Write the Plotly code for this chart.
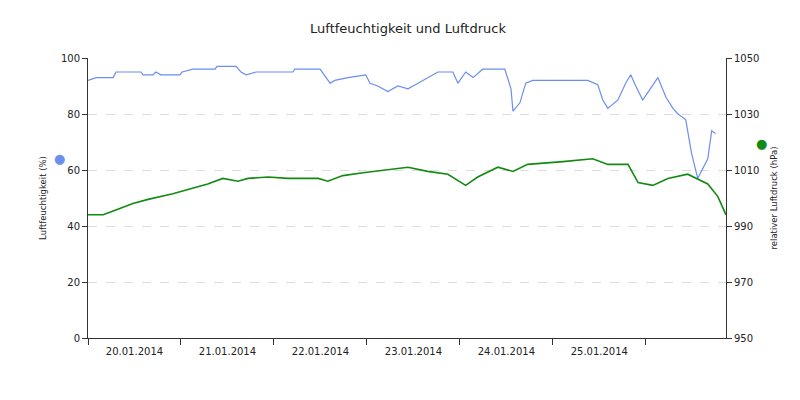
import plotly.graph_objects as go
import pandas as pd

start = pd.Timestamp("2014-01-20 00:00")
hum_hours = [0,2.1,6.5,7.2,13.7,14.2,16.8,17.5,18.8,23.7,24.3,27.1,32.8,33.3,38.2,39.5,40.8,43.4,52.9,53.4,59.9,61.4,62.5,63.7,67.1,71.7,72.8,74.8,77.4,80,82.6,85.2,87.7,90.3,94.2,95.5,97.5,99.4,101.9,107.6,109.2,109.7,111.5,113.0,114.8,118.7,129.0,131.6,132.9,134.2,136.8,138.8,140.1,141.4,143.2,147.1,149.2,151.0,152.3,154.3,155.8,157.4,160,161.0,162.0]
hum_vals = [92,93,93,95,95,94,94,95,94,94,95,96,96,97,97,95,94,95,95,96,96,93,91,92,93,94,91,90,88,90,89,91,93,95,95,91,95,93,96,96,89,81,84,91,92,92,92,90.5,85,82,85,91,94,90,85,93,86,82,80,78,66,57,64,74,73]
p_hours = [0,3.9,7.7,11.6,15.5,21.9,25.8,30.9,34.8,38.7,41.3,46.5,51.6,59.4,61.9,65.8,71,77.4,82.6,87.7,92.9,97.5,100.6,105.8,109.7,113.5,118.7,122.6,130.3,134.2,139.4,142,145.8,149.7,154.8,160,162.6,164.7]
p_vals = [994,994,996,998,999.5,1001.5,1003,1005,1007,1006,1007,1007.5,1007,1007,1006,1008,1009,1010,1011,1009.5,1008.5,1004.5,1007.5,1011,1009.5,1012,1012.5,1013,1014,1012,1012,1005.5,1004.5,1007,1008.5,1005,1000.5,994]
day_labels = ["20.01.2014", "21.01.2014", "22.01.2014", "23.01.2014", "24.01.2014", "25.01.2014"]

hx = [start + pd.Timedelta(hours=h) for h in hum_hours]
px = [start + pd.Timedelta(hours=h) for h in p_hours]
label_pos = [start + pd.Timedelta(hours=12 + 24 * i) for i in range(len(day_labels))]

fig = go.Figure()
fig.add_trace(go.Scatter(x=hx, y=hum_vals, mode="lines", line=dict(color="#6b8ef0", width=1.2), name="Luftfeuchtigkeit"))
fig.add_trace(go.Scatter(x=px, y=p_vals, mode="lines", line=dict(color="#138a13", width=1.6), yaxis="y2", name="Luftdruck"))

xend = start + pd.Timedelta(hours=164.7)
fig.update_layout(
    width=800, height=400, plot_bgcolor="white", paper_bgcolor="white", showlegend=False,
    margin=dict(l=80, r=82, t=50, b=70),
    font=dict(family="DejaVu Sans", size=10, color="#222"),
    title=dict(text="Luftfeuchtigkeit und Luftdruck", x=0.5, y=0.96, xanchor="center", font=dict(size=13)),
    xaxis=dict(type="date", range=[start, xend], tickvals=label_pos, ticktext=day_labels,
               ticks="", showgrid=False, automargin=False,
               minor=dict(ticks="outside", ticklen=6, tickcolor="#333", dtick=86400000, tick0=start, showgrid=False),
               showline=True, linecolor="#333", ticklabelstandoff=4),
    yaxis=dict(range=[0, 100], dtick=20, showgrid=True, gridcolor="#dddddd", griddash="dash", automargin=False,
               ticks="outside", ticklen=5, tickcolor="#333", showline=True, linecolor="#333", zeroline=False,
               title=dict(text="Luftfeuchtigkeit (%)", font=dict(size=8.5), standoff=12)),
    yaxis2=dict(range=[950, 1050], dtick=20, tick0=950, overlaying="y", side="right", showgrid=False, automargin=False,
                ticks="outside", ticklen=5, tickcolor="#333", showline=True, linecolor="#333", zeroline=False,
                title=dict(text="relativer Luftdruck (hPa)", font=dict(size=8.5), standoff=12)),
)
fig.add_annotation(text="●", x=-0.057, y=0.675, xref="paper", yref="paper", showarrow=False, font=dict(color="#6b8ef0", size=13))
fig.add_annotation(text="●", x=1.067, y=0.73, xref="paper", yref="paper", showarrow=False, font=dict(color="#138a13", size=13))
fig.write_html("out.html")
